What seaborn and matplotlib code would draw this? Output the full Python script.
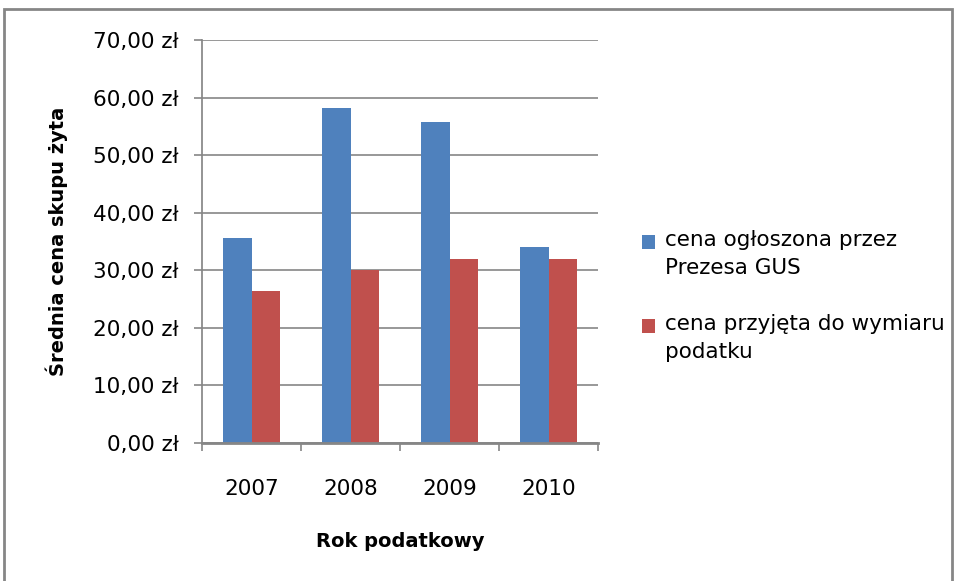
import numpy as np
import pandas as pd
import seaborn as sns
import matplotlib.pyplot as plt
from matplotlib.patches import Rectangle
from matplotlib.ticker import FuncFormatter, FixedLocator

years = ["2007", "2008", "2009", "2010"]
gus_price = [35.63, 58.18, 55.76, 34.07]
tax_price = [26.43, 30.08, 32.00, 32.00]
series_names = ["cena ogłoszona przez\nPrezesa GUS", "cena przyjęta do wymiaru\npodatku"]
colors = ["#4F81BD", "#C0504D"]

df = pd.DataFrame({
    "rok": years * 2,
    "cena": gus_price + tax_price,
    "seria": [series_names[0]] * 4 + [series_names[1]] * 4,
})

sns.set_theme(style="white")
plt.rcParams['font.family'] = ['DejaVu Sans']
plt.rcParams['text.color'] = 'black'
plt.rcParams['axes.labelcolor'] = 'black'
plt.rcParams['xtick.color'] = 'black'
plt.rcParams['ytick.color'] = 'black'

fig = plt.figure(figsize=(9.58, 5.81), dpi=100)
ax = fig.add_axes([202 / 958, 1 - 443 / 581, 396 / 958, 403 / 581])

sns.barplot(data=df, x="rok", y="cena", hue="seria", palette=colors,
            width=0.566, saturation=1, ax=ax, legend=False, errorbar=None, linewidth=0)

grid_c = "#868686"
ax.set_ylim(0, 70)
ax.set_xlim(-0.5, 3.5)
ax.set_yticks(np.arange(0, 71, 10))
ax.yaxis.set_major_formatter(FuncFormatter(lambda v, _: f"{v:.2f} zł".replace(".", ",")))
ax.yaxis.grid(True, color=grid_c, linewidth=1.2)
ax.set_axisbelow(True)

for s in ["top", "right"]:
    ax.spines[s].set_visible(False)
ax.spines["left"].set_color(grid_c)
ax.spines["bottom"].set_color(grid_c)
ax.spines["bottom"].set_linewidth(2)

ax.tick_params(axis="y", length=6, color=grid_c, width=1.2, pad=11, labelsize=15.5, left=True)
ax.tick_params(axis="x", which="major", length=0, pad=26, labelsize=15.5)
ax.xaxis.set_minor_locator(FixedLocator([-0.5, 0.5, 1.5, 2.5, 3.5]))
ax.tick_params(axis="x", which="minor", length=6, color=grid_c, width=1.2, bottom=True)

ax.set_xlabel("Rok podatkowy", fontsize=14, fontweight="bold", labelpad=24)
ax.set_ylabel("Średnia cena skupu żyta", fontsize=14, fontweight="bold", labelpad=18)

# legend drawn by hand so the square sits on the first text line
legend_y = [242, 326]
for c, name, y in zip(colors, series_names, legend_y):
    fig.patches.append(Rectangle((642 / 958, 1 - (y + 7) / 581), 13 / 958, 14 / 581,
                                 transform=fig.transFigure, facecolor=c, edgecolor="none"))
    fig.text(665 / 958, 1 - (y - 12) / 581, name, fontsize=15.5, va="top", ha="left",
             linespacing=1.5)

fig.patches.append(Rectangle((4 / 958, -0.1), 948 / 958, 1.1 - 9 / 581, transform=fig.transFigure,
                             fill=False, edgecolor=grid_c, linewidth=2))

fig.savefig("out.png", dpi=100)
